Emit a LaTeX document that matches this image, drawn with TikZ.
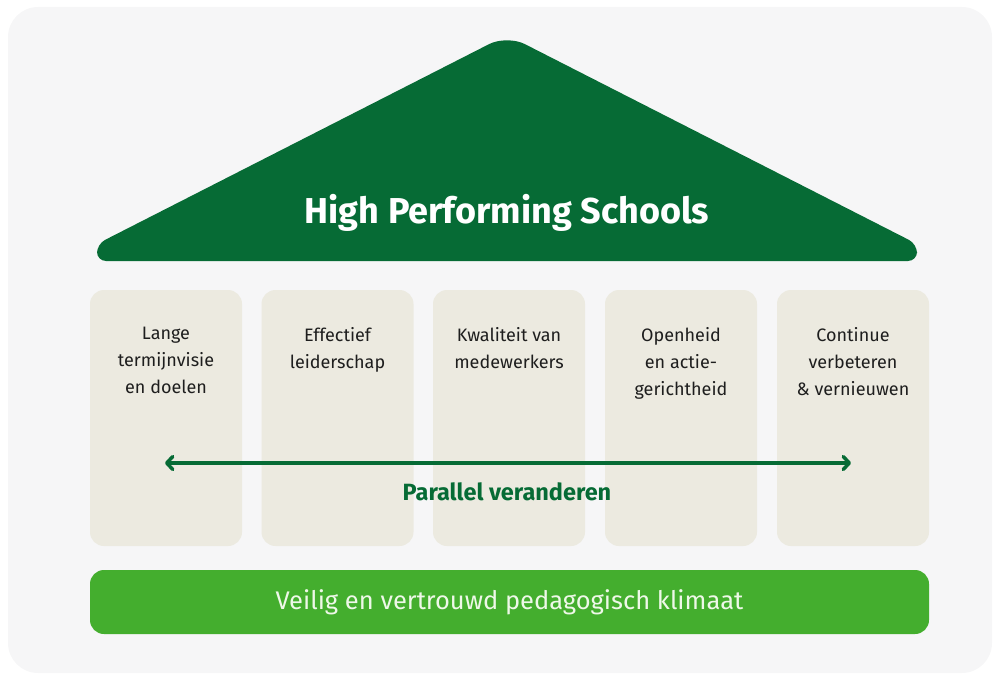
\documentclass[tikz,border=0pt]{standalone}
\usepackage{fontspec}
\setmainfont{Fira Sans}
\usetikzlibrary{arrows.meta}
\definecolor{bgc}{HTML}{F6F6F7}
\definecolor{roofc}{HTML}{066B35}
\definecolor{pillarc}{HTML}{ECEAE0}
\definecolor{basec}{HTML}{44AE2E}
\definecolor{basetxt}{HTML}{EEF8E8}
\definecolor{txtc}{HTML}{1E1E1E}
\tikzset{
  pillar/.style={fill=pillarc, rounded corners=14pt, minimum width=152pt, minimum height=256pt, inner sep=0pt, draw=none},
  pillartext/.style={anchor=north, inner sep=0pt, align=center, text=txtc, font=\fontsize{18}{27}\selectfont},
  basebar/.style={fill=basec, rounded corners=14pt, minimum width=839pt, minimum height=64pt, inner sep=0pt, text=basetxt, font=\fontsize{25.5}{28}\selectfont},
  pararrow/.style={draw=roofc, line width=3.5pt, {Straight Barb[length=6pt,width=13pt,line cap=round,line join=round]}-{Straight Barb[length=6pt,width=13pt,line cap=round,line join=round]}}
}
\begin{document}
\begin{tikzpicture}[x=1pt,y=-1pt]
\useasboundingbox (0,0) rectangle (994,674);
\fill[bgc, rounded corners=30pt] (8,7) rectangle (992,673);
% roof
\fill[roofc, rounded corners=9pt] (97,261) -- (97,244) [rounded corners=20pt] -- (507,35) [rounded corners=9pt] -- (917,244) -- (917,261) -- cycle;
\node[text=white, font=\fontsize{36}{40}\selectfont\bfseries, inner sep=0pt] (title) at (507,213) {High Performing Schools};
% pillars
\node[pillar] (p1) at (166,418) {};
\node[pillar] (p2) at (337.5,418) {};
\node[pillar] (p3) at (509,418) {};
\node[pillar] (p4) at (681,418) {};
\node[pillar] (p5) at (853,418) {};
\node[pillartext] (t1) at (166,327) {Lange\\termijnvisie\\en doelen};
\node[pillartext] (t2) at (337.5,327) {Effectief\\leiderschap};
\node[pillartext] (t3) at (509,327) {Kwaliteit van\\medewerkers};
\node[pillartext] (t4) at (681,327) {Openheid\\en actie-\\gerichtheid};
\node[pillartext] (t5) at (853,327) {Continue\\verbeteren\\\&~vernieuwen};
% arrow
\coordinate (al) at (165,463);
\coordinate (ar) at (851,463);
\draw[pararrow] (al) -- (ar);
\node[text=roofc, font=\fontsize{23.5}{26}\selectfont\bfseries, inner sep=0pt] (par) at (507,492) {Parallel veranderen};
% base
\node[basebar] (base) at (509.5,602) {Veilig en vertrouwd pedagogisch klimaat};
\end{tikzpicture}
\end{document}
